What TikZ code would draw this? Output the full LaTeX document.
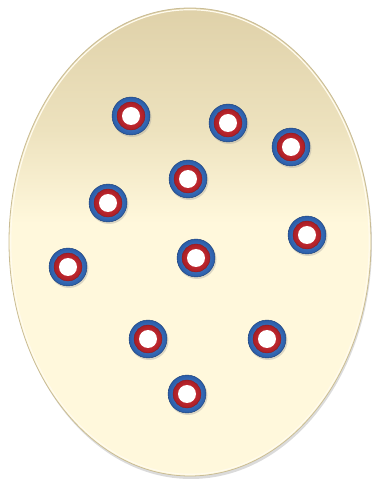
\documentclass[tikz,border=0pt]{standalone}
\usetikzlibrary{shadows}
\definecolor{tanTop}{HTML}{DFD1A9}
\definecolor{tanMid}{HTML}{EDE2BE}
\definecolor{cream}{HTML}{FFF8DC}
\definecolor{rimCol}{HTML}{C9BC94}
\definecolor{blueOut}{HTML}{2A5CA8}
\definecolor{blueLight}{HTML}{5A94DC}
\definecolor{redRing}{HTML}{E2373E}
\definecolor{redDark}{HTML}{A81E25}
\pgfdeclareverticalshading{eggshade}{100bp}{color(0bp)=(cream); color(52bp)=(cream); color(62bp)=(tanMid); color(75bp)=(tanTop); color(100bp)=(tanTop)}
\tikzset{
  pinring/.pic={
    \fill[black!40,opacity=0.35] (1pt,-1.5pt) circle (19.5pt);
    \shade[inner color=blueLight,outer color=blueOut,draw=blueOut!70!black,line width=0.4pt] (0,0) circle (19pt);
    \shade[inner color=redRing,outer color=redDark,draw=redDark!80!black,line width=0.3pt] (0,0) circle (14pt);
    \fill[white] (0,0) circle (9pt);
  }
}
\begin{document}
\begin{tikzpicture}[x=1pt,y=1pt]
\useasboundingbox (0,0) rectangle (372,480);
% shadow
\fill[black!40,opacity=0.35] (191,236) ellipse (181pt and 235pt);
% ellipse body
\shade[shading=eggshade] (190,238) ellipse (181pt and 234pt);
\draw[rimCol,line width=0.8pt] (190,238) ellipse (181pt and 234pt);
\draw[white!50!cream,line width=1.2pt] (190,238) ellipse (179.3pt and 232.3pt);
\path (131,364) pic {pinring};
\path (228,357) pic {pinring};
\path (291,333) pic {pinring};
\path (188,301) pic {pinring};
\path (108,277) pic {pinring};
\path (307,245) pic {pinring};
\path (196,222) pic {pinring};
\path (68,213) pic {pinring};
\path (148,141) pic {pinring};
\path (267,141) pic {pinring};
\path (187,86) pic {pinring};
\end{tikzpicture}
\end{document}
